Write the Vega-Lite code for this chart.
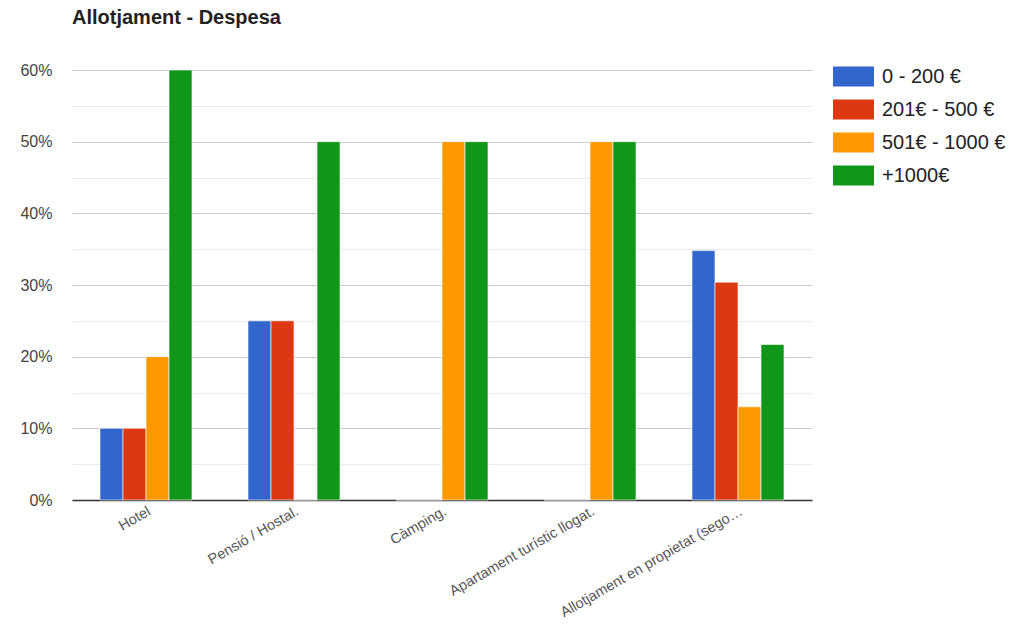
{
  "$schema": "https://vega.github.io/schema/vega-lite/v6.json",
  "width": 740,
  "height": 430,
  "autosize": {"type": "none"},
  "padding": {"left": 72, "top": 70, "right": 197, "bottom": 126},
  "background": "white",
  "title": {
    "text": "Allotjament - Despesa",
    "anchor": "start",
    "frame": "group",
    "font": "Liberation Sans",
    "fontSize": 20,
    "fontWeight": "bold",
    "color": "#222222",
    "baseline": "alphabetic",
    "offset": 12
  },
  "config": {
    "view": {"stroke": null},
    "font": "Liberation Sans"
  },
  "data": {
    "values": [
      {"categoria": "Hotel", "despesa": "0 - 200 €", "percentatge": 0.10},
      {"categoria": "Hotel", "despesa": "201€ - 500 €", "percentatge": 0.10},
      {"categoria": "Hotel", "despesa": "501€ - 1000 €", "percentatge": 0.20},
      {"categoria": "Hotel", "despesa": "+1000€", "percentatge": 0.60},
      {"categoria": "Pensió / Hostal.", "despesa": "0 - 200 €", "percentatge": 0.25},
      {"categoria": "Pensió / Hostal.", "despesa": "201€ - 500 €", "percentatge": 0.25},
      {"categoria": "Pensió / Hostal.", "despesa": "501€ - 1000 €", "percentatge": 0.0},
      {"categoria": "Pensió / Hostal.", "despesa": "+1000€", "percentatge": 0.50},
      {"categoria": "Càmping.", "despesa": "0 - 200 €", "percentatge": 0.0},
      {"categoria": "Càmping.", "despesa": "201€ - 500 €", "percentatge": 0.0},
      {"categoria": "Càmping.", "despesa": "501€ - 1000 €", "percentatge": 0.50},
      {"categoria": "Càmping.", "despesa": "+1000€", "percentatge": 0.50},
      {"categoria": "Apartament turístic llogat.", "despesa": "0 - 200 €", "percentatge": 0.0},
      {"categoria": "Apartament turístic llogat.", "despesa": "201€ - 500 €", "percentatge": 0.0},
      {"categoria": "Apartament turístic llogat.", "despesa": "501€ - 1000 €", "percentatge": 0.50},
      {"categoria": "Apartament turístic llogat.", "despesa": "+1000€", "percentatge": 0.50},
      {"categoria": "Allotjament en propietat (sego…", "despesa": "0 - 200 €", "percentatge": 0.348},
      {"categoria": "Allotjament en propietat (sego…", "despesa": "201€ - 500 €", "percentatge": 0.304},
      {"categoria": "Allotjament en propietat (sego…", "despesa": "501€ - 1000 €", "percentatge": 0.130},
      {"categoria": "Allotjament en propietat (sego…", "despesa": "+1000€", "percentatge": 0.217}
    ]
  },
  "mark": {"type": "bar", "stroke": "white", "strokeWidth": 1, "strokeOpacity": 0.6},
  "encoding": {
    "x": {
      "field": "categoria",
      "type": "nominal",
      "sort": null,
      "scale": {"paddingInner": 0.378, "paddingOuter": 0.189},
      "axis": {
        "title": null,
        "labelAngle": -30,
        "labelFontSize": 14.5,
        "labelColor": "#555555",
        "labelPadding": 4,
        "labelLimit": 400,
        "ticks": false,
        "domainColor": "#333333",
        "domainWidth": 1.5,
        "grid": false
      }
    },
    "xOffset": {
      "field": "despesa",
      "type": "nominal",
      "sort": ["0 - 200 €", "201€ - 500 €", "501€ - 1000 €", "+1000€"],
      "scale": {"paddingInner": 0, "paddingOuter": 0}
    },
    "y": {
      "field": "percentatge",
      "type": "quantitative",
      "scale": {"domain": [0, 0.6], "nice": false},
      "axis": {
        "title": null,
        "values": [0, 0.05, 0.1, 0.15, 0.2, 0.25, 0.3, 0.35, 0.4, 0.45, 0.5, 0.55, 0.6],
        "format": ".0%",
        "labelExpr": "round(datum.value*100) % 10 == 0 ? datum.label : ''",
        "labelFontSize": 16,
        "labelColor": "#444444",
        "labelPadding": 20,
        "ticks": false,
        "domain": false,
        "grid": true,
        "gridColor": {"condition": {"test": "round(datum.value*100) % 10 != 0", "value": "#ebebeb"}, "value": "#cccccc"},
        "gridWidth": 1.2
      }
    },
    "color": {
      "field": "despesa",
      "type": "nominal",
      "sort": ["0 - 200 €", "201€ - 500 €", "501€ - 1000 €", "+1000€"],
      "scale": {
        "domain": ["0 - 200 €", "201€ - 500 €", "501€ - 1000 €", "+1000€"],
        "range": ["#3366cc", "#dc3912", "#ff9900", "#109618"]
      },
      "legend": {
        "title": null,
        "orient": "none",
        "legendX": 761,
        "legendY": -14,
        "symbolType": "M-1,-0.49H1V0.49H-1Z",
        "symbolSize": 1681,
        "symbolStrokeWidth": 0,
        "symbolOpacity": 1,
        "labelFontSize": 20,
        "labelColor": "#222222",
        "labelOffset": 8,
        "rowPadding": 2,
        "labelLimit": 300
      }
    }
  }
}
